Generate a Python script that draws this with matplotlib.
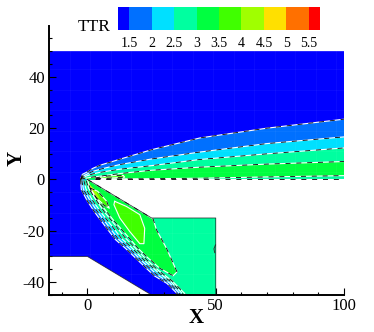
import numpy as np
import matplotlib.pyplot as plt
from matplotlib.patches import Polygon
from matplotlib.ticker import MultipleLocator

plt.rcParams['font.family'] = ['Liberation Serif', 'DejaVu Serif']

# colour levels
levels = [1.25, 1.5, 2, 2.5, 3, 3.5, 4, 4.5, 5, 5.5, 5.75]
level_labels = ['1.5', '2', '2.5', '3', '3.5', '4', '4.5', '5', '5.5']
colors = ['#0000ff', '#0070ff', '#00e0ff', '#00ffa0', '#00ff40',
          '#40ff00', '#a0ff00', '#ffe000', '#ff7000', '#ff0000']

# flow domain outline
domain_x = [-15, 100, 100, 0, 25, 50, 50, 25, 0, -15]
domain_y = [50, 50, 0, 0, -15, -15, -45, -45, -30, -30]

# upper shock layer, contours from outside in
up_x = [-2.7, -2, 0, 2.2, 5, 9.4, 12.6, 25, 43.9, 70, 100]
up_2 = [0, 2, 3, 4.4, 5.6, 6.9, 7.9, 11.6, 16.2, 20, 23.5]
up_25 = [0, 1.2, 2.2, 3.2, 4, 5.1, 5.8, 8, 10.7, 14, 16.6]
up_3 = [0, 0.8, 1.5, 2.2, 2.8, 3.5, 4, 5.4, 7.8, 10, 12.3]
up_35 = [0, 0.3, 0.6, 1, 1.3, 1.9, 2.3, 3.6, 4.8, 6, 7]
up_4_x = [3, 25, 43.9, 70, 100]
up_4 = [0.2, 0.3, 0.5, 1, 1.5]
thin_x = [3, 8, 14, 14.5, 8, 3]
thin_y = [0.6, 1.4, 1.6, 0.9, 0.5, 0.3]

# lower shock layer, contours from outside in
low_2_x = [-2.7, -2.4, 0, 3, 7.5, 11, 15, 20, 26, 31, 35.5]
low_2_y = [0, -3.9, -8.5, -13, -19, -23.5, -27, -31.8, -37.5, -40.5, -45]
low_25_x = [-2.2, -1.6, 1, 4, 8.6, 12, 16.2, 21, 27, 32, 36.5]
low_25_y = [-0.3, -3.8, -8.3, -12.7, -18.8, -23.2, -26.8, -31.6, -37, -40.3, -45]
low_3_x = [-1.4, -0.6, 2, 5.2, 9.8, 13.2, 17.3, 22.1, 27.3, 32.6, 37.5]
low_3_y = [-0.4, -3.7, -8.2, -12.7, -18.5, -22.9, -26.6, -31.5, -36, -39.9, -45]
low_35_x = [-0.5, 0.5, 3, 6.5, 11, 14.5, 18.5, 23.2, 27.5, 33, 38.5]
low_35_y = [-0.5, -3.5, -7.5, -12.5, -18, -22.5, -26.5, -31.4, -35.3, -39.5, -45]

green_x = [0, 25.6, 26.9, 30.8, 34.9, 33.4, 28.2, 23, 19.7, 15.2, 10, 4.8, 1]
green_y = [0, -15.4, -19.6, -26.8, -36, -37.5, -34.6, -30, -26.8, -21.6, -15.7, -9.2, -3.3]
core_x = [10.6, 15.2, 20.4, 22.3, 22, 20.4, 16.5, 12.6, 10.3]
core_y = [-8.5, -10.5, -13.7, -19, -25, -25, -20.3, -15, -9.8]
nose_x = [1, 4, 7.5, 8.5, 6.5, 3.5, 1.5]
nose_y = [-3.3, -4.6, -8.5, -11.2, -10, -7.2, -4.6]
nose2_x = [0.8, 3, 5, 2.5, 0.9]
nose2_y = [-2, -4, -7.8, -6, -3.3]
tip_x = [0.3, 2.2, 1.6, 0.5]
tip_y = [-1.3, -4, -4.6, -2.8]
mark_x = [49.9, 49.3, 49.6]
mark_y = [-25.5, -27, -28.5]
wall_x = [3, 100]
wall_y = [0, 0]


def contour(ax, x, y):
    ax.plot(x, y, color='white', lw=0.8, zorder=5, solid_capstyle='butt')
    ax.plot(x, y, color='black', lw=0.6, dashes=(6, 7), zorder=6)


fig = plt.figure(figsize=(3.74, 3.32), dpi=100)
ax = fig.add_axes([49 / 374, 37 / 332, 295 / 374, 269 / 332])
ax.set_xlim(-15, 100)
ax.set_ylim(-45, 59.8)

domain = Polygon(np.column_stack([domain_x, domain_y]), closed=True,
                 fc=colors[0], ec='none', zorder=1)
ax.add_patch(domain)

# upper wedge, painted outside to inside
for ys, c in zip([up_2, up_25, up_3, up_35], colors[1:5]):
    ax.fill(up_x + [100, 0], ys + [0, 0], color=c, lw=0, zorder=2)
    contour(ax, up_x, ys)
ax.fill(up_4_x + [100], up_4 + [0], color=colors[3], lw=0, zorder=2)
contour(ax, up_4_x, up_4)
ax.fill(thin_x, thin_y, color=colors[5], lw=0, zorder=3)
contour(ax, thin_x, thin_y)
contour(ax, wall_x, wall_y)

# lower wedge
edge_x = [50, 50, 25, 0]
edge_y = [-45, -15, -15, 0]
low_x = [low_2_x, low_25_x, low_3_x, low_35_x]
low_y = [low_2_y, low_25_y, low_3_y, low_35_y]
for xs, ys, c in zip(low_x, low_y, colors[1:3] + [colors[3], colors[3]]):
    ax.fill(xs + edge_x, ys + edge_y, color=c, lw=0, zorder=2)
    contour(ax, xs, ys)
ax.fill(green_x, green_y, color=colors[4], lw=0, zorder=3)
contour(ax, green_x + green_x[:1], green_y + green_y[:1])
ax.fill(core_x, core_y, color=colors[5], lw=0, zorder=3)
ax.plot(core_x + core_x[:1], core_y + core_y[:1], color='white', lw=0.8, zorder=5)
ax.fill(nose_x, nose_y, color=colors[5], lw=0, zorder=3)
contour(ax, nose_x + nose_x[:1], nose_y + nose_y[:1])
ax.fill(nose2_x, nose2_y, color=colors[6], lw=0, zorder=3)
ax.fill(tip_x, tip_y, color=colors[7], lw=0, zorder=4)
ax.plot(mark_x, mark_y, color='#333333', lw=0.7, zorder=6)

# wall edges
ax.plot(domain_x[3:10], domain_y[3:10], color='#1a1a1a', lw=0.6, alpha=0.8, zorder=7)

# faint mesh lines
for v in np.arange(-15, 100, 8):
    ln = ax.axvline(v, color='white', lw=0.5, alpha=0.06, zorder=4)
    ln.set_clip_path(domain)
for v in np.arange(-45, 50, 8):
    ln = ax.axhline(v, color='white', lw=0.5, alpha=0.06, zorder=4)
    ln.set_clip_path(domain)

ax.spines['top'].set_visible(False)
ax.spines['right'].set_visible(False)
ax.spines['left'].set_linewidth(1.4)
ax.spines['bottom'].set_linewidth(1.4)
ax.spines['left'].set_zorder(10)
ax.spines['bottom'].set_zorder(10)
ax.set_xticks([0, 50, 100])
ax.set_yticks([-40, -20, 0, 20, 40])
ax.set_yticklabels(['-40', '-20', '0', '20', '40'])
ax.xaxis.set_minor_locator(MultipleLocator(10))
ax.yaxis.set_minor_locator(MultipleLocator(5))
ax.tick_params(which='major', direction='in', length=5, width=0.8, labelsize=12, zorder=8)
ax.tick_params(axis='y', which='major', pad=3)
ax.tick_params(axis='x', which='major', pad=2)
ax.tick_params(which='minor', direction='in', length=2.5, width=0.8, zorder=8)
ax.set_xlabel('X', fontsize=15, fontweight='bold', va='center')
ax.set_ylabel('Y', fontsize=15, fontweight='bold', va='center')
ax.xaxis.set_label_coords((196 - 49) / 295, -(318 - 295) / 269)
ax.yaxis.set_label_coords((17 - 49) / 295, (295 - 158) / 269)

# contour legend
cax = fig.add_axes([118 / 374, (332 - 30) / 332, 202 / 374, 23 / 332])
for i, c in enumerate(colors):
    cax.barh(0, levels[i + 1] - levels[i], left=levels[i], height=1, color=c, lw=0)
cax.set_xlim(levels[0], levels[-1])
cax.set_ylim(-0.5, 0.5)
cax.axis('off')
for lab in level_labels:
    cax.text(float(lab), -1.1, lab, ha='center', va='center', fontsize=10)
fig.text(78 / 374, 1 - 27 / 332, 'TTR', fontsize=12.5, ha='left', va='center')

fig.savefig('out.png', dpi=100)
